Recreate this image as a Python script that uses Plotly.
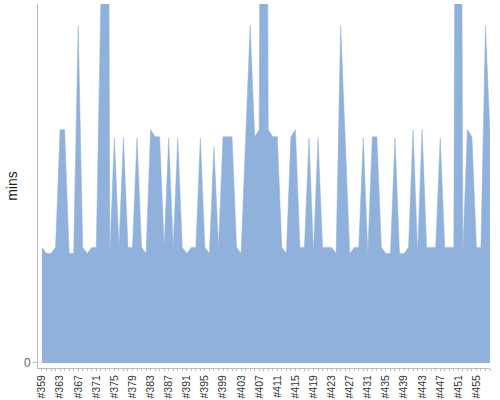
import plotly.graph_objects as go

# build numbers on the x axis (#359 .. #458)
builds = list(range(359, 459))

# build duration in minutes (values above 10 run off the top)
minutes = [
    3.22, 3.05, 3.05, 3.22, 6.50, 6.50, 3.05, 3.05, 9.40, 3.22,
    3.05, 3.22, 3.22, 10.05, 40.0, 3.05, 6.27, 3.22, 6.27, 3.22,
    3.22, 6.27, 3.22, 3.05, 6.50, 6.30, 6.30, 3.22, 6.27, 3.22,
    6.27, 3.22, 3.05, 3.22, 3.22, 6.27, 3.22, 3.05, 6.02, 3.22,
    6.30, 6.30, 6.30, 3.22, 3.05, 6.25, 9.40, 6.30, 6.50, 40.0,
    6.50, 6.30, 6.30, 3.22, 3.05, 6.30, 6.50, 3.22, 3.22, 6.27,
    3.05, 6.27, 3.22, 3.22, 3.22, 3.05, 9.40, 6.25, 3.05, 3.22,
    3.22, 6.27, 3.05, 6.30, 6.30, 3.22, 3.05, 3.05, 6.27, 3.05,
    3.05, 3.22, 6.50, 3.05, 6.50, 3.22, 3.22, 3.22, 6.27, 3.22,
    3.22, 3.22, 40.0, 3.05, 6.50, 6.30, 3.22, 3.22, 9.40, 6.35,
]

label_builds = builds[::4]
label_text = ["#%d" % b for b in label_builds]

FILL = "#8FB1DB"
AXIS = "#BBBBBB"
TEXT = "#333333"

fig = go.Figure()

fig.add_trace(
    go.Scatter(
        x=builds,
        y=minutes,
        mode="lines",
        fill="tozeroy",
        fillcolor=FILL,
        line=dict(color=FILL, width=0.5),
        hoverinfo="skip",
        showlegend=False,
    )
)

fig.update_layout(
    width=500,
    height=400,
    margin=dict(l=38, r=10, t=4, b=32),
    paper_bgcolor="white",
    plot_bgcolor="white",
    font=dict(family="Liberation Sans, Arial, sans-serif", color=TEXT),
    xaxis=dict(
        range=[358.12, 458],
        tickvals=label_builds,
        ticktext=label_text,
        tickangle=-90,
        tickfont=dict(size=10.5, color=TEXT),
        ticks="outside",
        ticklen=2,
        tickcolor=AXIS,
        minor=dict(dtick=1, ticks="outside", ticklen=2, tickcolor=AXIS),
        showline=True,
        linecolor=AXIS,
        linewidth=1,
        showgrid=False,
        zeroline=False,
        automargin=False,
    ),
    yaxis=dict(
        range=[-0.14, 10],
        tickvals=[0],
        ticktext=["0"],
        tickfont=dict(size=12, color="#666666"),
        ticks="outside",
        ticklen=4,
        tickcolor=AXIS,
        showline=True,
        linecolor=AXIS,
        linewidth=1,
        showgrid=False,
        zeroline=False,
        title=dict(text="mins", font=dict(size=14, color="#222222"), standoff=3),
        automargin=False,
    ),
)

# page body has a default 8px margin; drop it so the figure fills the window
fig.write_html(
    "out.html",
    config={"displayModeBar": False},
    post_script="document.body.style.margin='0';document.body.style.overflow='hidden';",
)
